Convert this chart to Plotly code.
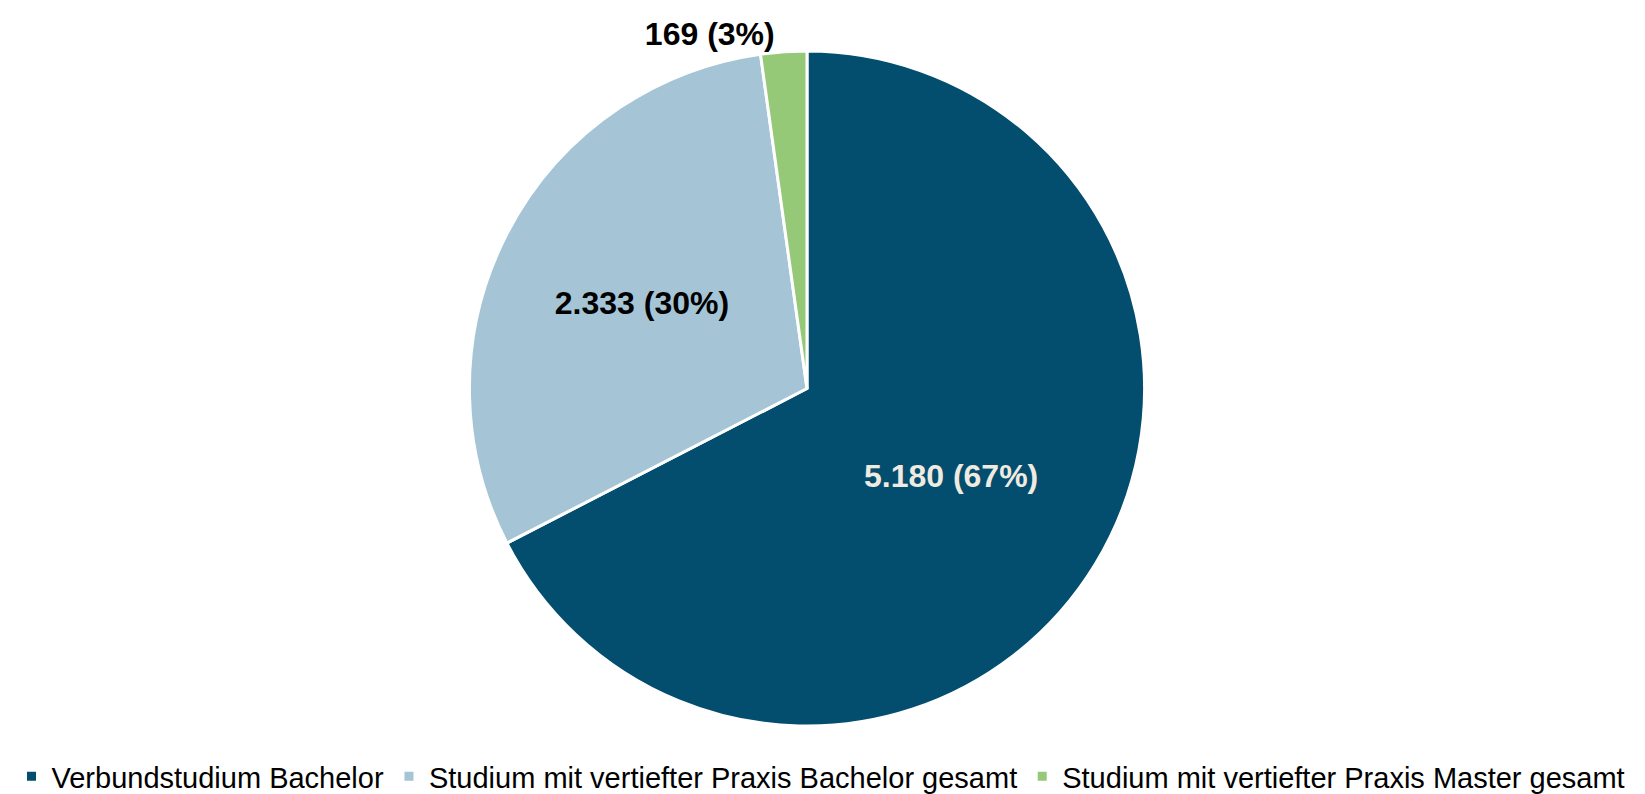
import plotly.graph_objects as go

categories = [
    "Verbundstudium Bachelor",
    "Studium mit vertiefter Praxis Bachelor gesamt",
    "Studium mit vertiefter Praxis Master gesamt",
]
values = [5180, 2333, 169]
percent_labels = [67, 30, 3]
colors = ["#034D6E", "#A5C5D6", "#95C978"]
text_colors = ["#EFEBE0", "#000000", "#000000"]
text_positions = ["inside", "inside", "outside"]

W, H = 1645, 794
OFF = 8  # default page body margin
cx, cy, r = 807 - OFF, 389 - OFF, 338

FONT = "Liberation Sans, Arial, sans-serif"

fig = go.Figure(
    go.Pie(
        labels=categories,
        values=values,
        customdata=percent_labels,
        texttemplate="%{value:,} (%{customdata}%)",
        textposition=text_positions,
        insidetextorientation="horizontal",
        textfont=dict(family=FONT, size=32, color=text_colors, weight="bold"),
        outsidetextfont=dict(family=FONT, size=32, color="#000000", weight="bold"),
        marker=dict(colors=colors, line=dict(color="white", width=3)),
        sort=False,
        direction="clockwise",
        rotation=0,
        hoverinfo="label+value+percent",
        domain=dict(x=[(cx - r) / W, (cx + r) / W], y=[1 - (cy + r) / H, 1 - (cy - r) / H]),
    )
)

fig.update_layout(
    width=W,
    height=H,
    margin=dict(l=0, r=0, t=0, b=0),
    paper_bgcolor="white",
    plot_bgcolor="white",
    separators=",.",
    font=dict(family=FONT, color="#000000"),
    showlegend=True,
    legend=dict(
        orientation="h",
        x=(821 - OFF) / W,
        xanchor="center",
        y=1 - (777 - OFF) / H,
        yanchor="middle",
        font=dict(size=29, color="#000000"),
        itemwidth=30,
        traceorder="normal",
    ),
)

fig.write_html("out.html")
